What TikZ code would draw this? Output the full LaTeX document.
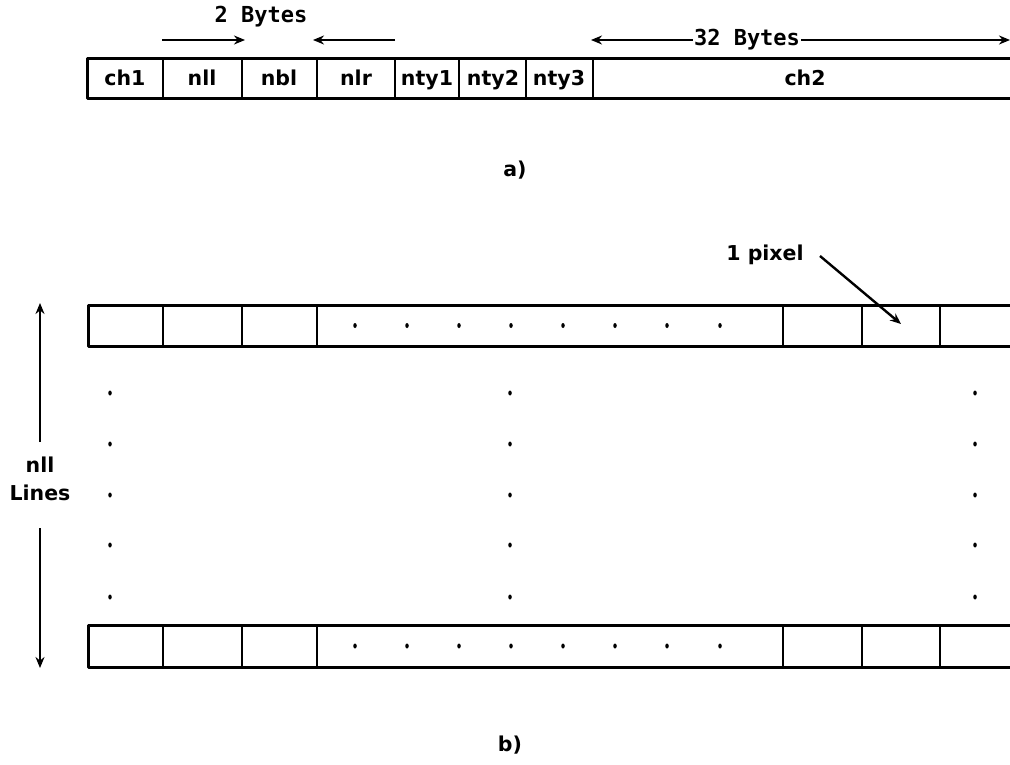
\documentclass[tikz,border=0pt]{standalone}
\usepackage{fontspec}
\setmainfont{DejaVu Sans}
\newfontfamily\bytesfont{DejaVu Sans Mono}
\usetikzlibrary{arrows.meta,shapes.geometric}
\begin{document}
\begin{tikzpicture}[x=1pt,y=-1pt,
  lbl/.style={font=\fontsize{20.5}{24}\selectfont\bfseries, inner sep=0pt},
  cell/.style={lbl, text height=15pt, text depth=4pt},
  blbl/.style={font=\fontsize{22}{25}\selectfont\bytesfont\bfseries, inner sep=1pt},
  outer/.style={line width=3pt, line cap=round, line join=round},
  divider/.style={line width=2pt},
  arr/.style={line width=2.4pt, -{Stealth[length=11pt,width=9pt]}},
  dotmark/.style={ellipse, fill=black, inner sep=0pt, minimum width=3.5pt, minimum height=5pt}]
\useasboundingbox (0,0) rectangle (1010,765);
% ---------- a) ----------
\draw[outer] (1014,59) -- (87,59) -- (87,99) -- (1014,99);
\foreach \x in {163,242,317,395,459,526,593} \draw[divider] (\x,59) -- (\x,99);
\node[cell] (ch1) at (125,80) {ch1};
\node[cell] (nll) at (202,80) {nll};
\node[cell] (nbl) at (279,80) {nbl};
\node[cell] (nlr) at (356,80) {nlr};
\node[cell] (nty1) at (427,80) {nty1};
\node[cell] (nty2) at (493,80) {nty2};
\node[cell] (nty3) at (559,80) {nty3};
\node[cell] (ch2) at (805,80) {ch2};
\node[blbl] (twob) at (261,17) {2 Bytes};
\coordinate (a1s) at (162,40); \coordinate (a1e) at (245,40);
\coordinate (a2s) at (395,40); \coordinate (a2e) at (313,40);
\draw[arr] (a1s) -- (a1e);
\draw[arr] (a2s) -- (a2e);
\node[blbl] (thirtytwo) at (747,40) {32 Bytes};
\coordinate (b1e) at (591,40); \coordinate (b2e) at (1010,40);
\draw[arr] (thirtytwo.west) -- (b1e);
\draw[arr] (thirtytwo.east) -- (b2e);
\node[lbl] (capa) at (515,170) {a)};
% ---------- b) ----------
\foreach \ya/\yb in {305/346,625/667}{
  \draw[outer] (1014,\ya) -- (88,\ya) -- (88,\yb) -- (1014,\yb);
  \foreach \x in {163,242,317,783,862,940} \draw[divider] (\x,\ya) -- (\x,\yb);
  \foreach \x in {355,407,459,511,563,615,667,720}
    \node[dotmark] at (\x,{(\ya+\yb)/2}) {};
}
\foreach \x in {110,510,975}
  \foreach \y in {393,444,495,545,597}
    \node[dotmark] at (\x,\y) {};
\node[lbl, align=center, font=\fontsize{20.5}{28}\selectfont\bfseries] (nlines) at (40,479) {nll\\Lines};
\coordinate (upt) at (40,303); \coordinate (dnt) at (40,668);
\draw[arr] (40,442) -- (upt);
\draw[arr] (40,528) -- (dnt);
\node[lbl] (pix) at (765,255) {1 pixel};
\coordinate (pixt) at (901,324);
\draw[arr] (820,256) -- (pixt);
\node[lbl] (capb) at (510,745) {b)};
\end{tikzpicture}
\end{document}
